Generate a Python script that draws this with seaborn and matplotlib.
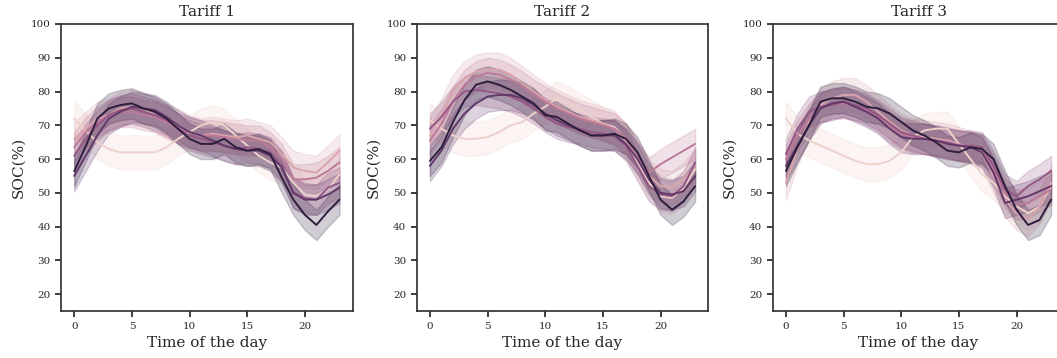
import matplotlib
matplotlib.use("Agg")
import matplotlib.pyplot as plt
import seaborn as sns
import numpy as np
import pandas as pd

hours = list(range(24))
levels = [1, 2, 3, 4, 5, 6]
tariffs = ["Tariff 1", "Tariff 2", "Tariff 3"]

# mean SOC per hour, one list per hue level (1 = lightest ... 6 = darkest)
t1 = {
    1: [72, 68.5, 65, 63, 62, 62, 62, 62, 63.5, 66, 68, 70, 71, 70, 67, 64, 61, 59, 57.5, 53, 49.5, 49, 51, 55.5],
    2: [66, 69, 72, 73, 75, 75.5, 75, 73, 71, 70, 68, 67, 67.5, 67, 66.5, 67, 66, 65, 61.5, 57.5, 56.5, 56, 59, 62.5],
    3: [63.5, 68, 71, 73, 74, 74, 73, 72.5, 71, 69, 68, 67, 67, 66.5, 66, 65.5, 65.5, 63.5, 60, 54, 54, 54.5, 56.5, 59],
    4: [61, 66, 70, 73, 74.5, 75, 74, 73, 71.5, 69, 67, 66, 65, 64, 63, 63.5, 63, 62, 58, 50, 48.5, 48, 51.5, 53],
    5: [55, 61, 67, 72, 74, 75.5, 75, 74.5, 72.5, 70, 68, 67, 65.5, 64, 63, 62.5, 62.5, 61, 57.5, 50, 48, 48, 49.5, 51.5],
    6: [56.4, 63.8, 72, 75, 76, 76.5, 75, 74, 72, 69, 66, 64.5, 64.5, 66, 63.5, 62.5, 63, 61.5, 54.5, 48, 43.5, 40.5, 44.5, 48],
}
t2 = {
    1: [71.5, 69, 67, 66, 66, 66.5, 68, 70, 71, 73.5, 75.5, 78, 76.5, 74.5, 72.5, 70.5, 69.5, 65.5, 59, 53, 49, 48.5, 51.5, 57],
    2: [67, 73, 80, 84, 86, 86.5, 86.5, 85, 82.5, 80, 77.5, 75.5, 74, 72.5, 71.5, 70.5, 69, 65.5, 60.5, 55, 52, 51.5, 54, 58],
    3: [65.5, 70.5, 77, 82, 84.5, 85.5, 85, 83.5, 81.5, 79, 77, 75, 73.5, 72, 71, 70, 69, 66, 60.5, 56, 58.5, 60.5, 62.5, 64.5],
    4: [69, 72.5, 77, 80, 80.5, 80, 79.5, 78.5, 77, 75, 72.5, 70.5, 69.5, 69, 68, 67.5, 67, 64, 58, 52, 49.5, 49, 52, 59],
    5: [58, 62.5, 69, 73.5, 76.5, 78.5, 79, 79, 78, 76, 73.5, 71.5, 70, 68.5, 67, 67, 67, 64.5, 60, 54, 50, 49.5, 50.5, 55],
    6: [59.5, 63.5, 71, 77.5, 82, 83, 82, 80.5, 78.5, 76.5, 73, 72.5, 70.5, 68.5, 67, 67, 67.5, 66, 62, 55, 48, 45, 47.5, 52],
}
t3 = {
    1: [72, 67.5, 65.5, 64, 62.5, 61, 59.5, 58.5, 58.5, 59.5, 62, 66.5, 68.5, 69, 69, 64.5, 60, 55.5, 53, 49, 46, 44, 46, 52],
    2: [53, 63, 71, 76, 78, 79, 79, 77, 74, 71, 68.5, 67, 66.5, 66, 65.5, 64.5, 63.5, 62, 55, 48, 44, 42, 46, 53],
    3: [60, 67, 72, 75.5, 76.5, 76.5, 76, 74.5, 72.5, 69.5, 67.5, 66.5, 66, 65, 64.5, 64, 63.5, 62.5, 57, 50, 46.5, 47, 49, 51],
    4: [61.5, 69, 74, 75.5, 76, 77, 76, 75, 73, 70.5, 68, 67, 66, 65.5, 65, 64, 64, 63.5, 58, 51, 49, 52, 54, 56.5],
    5: [58, 64, 70, 75, 76.5, 77, 75.5, 74, 72, 69, 66.5, 66, 66, 65.5, 64.5, 64, 63.5, 62, 56, 47, 48, 49, 50.5, 52],
    6: [56.5, 63.5, 70, 77, 78, 78, 77, 75.5, 75, 73.5, 71, 68.5, 67, 65, 62.5, 62, 63.5, 63, 60, 52, 45, 40.5, 42, 48],
}
# approximate half-width of the shaded band per level
spread = {1: 5.0, 2: 5.0, 3: 4.5, 4: 4.5, 5: 4.5, 6: 4.5}

rows = []
for name, tab in zip(tariffs, [t1, t2, t3]):
    for lv in levels:
        for h, m in zip(hours, tab[lv]):
            for v in (m - spread[lv], m, m + spread[lv]):
                rows.append((name, lv, h, v))
df = pd.DataFrame(rows, columns=["tariff", "level", "hour", "soc"])

sns.set_theme(style="ticks", font="DejaVu Serif")
plt.rcParams["font.family"] = ["DejaVu Serif"]

fig = plt.figure(figsize=(10.57, 3.58), dpi=100)
lefts = [0.0577, 0.3942, 0.7310]
axes = [fig.add_axes([l, 0.131, 0.276, 0.802]) for l in lefts]

for ax, name in zip(axes, tariffs):
    sub = df[df.tariff == name]
    sns.lineplot(data=sub, x="hour", y="soc", hue="level", palette="ch:",
                 errorbar=("pi", 100), err_kws={"alpha": 0.22},
                 linewidth=1.4, legend=False, ax=ax)
    ax.set_ylim(15, 100)
    ax.set_yticks(range(20, 101, 10))
    ax.set_xticks([0, 5, 10, 15, 20])
    ax.set_title(name, fontsize=11)
    ax.set_xlabel("Time of the day", fontsize=11)
    ax.set_ylabel("SOC(%)", fontsize=11)
    ax.tick_params(labelsize=7.5, length=4)
    for s in ax.spines.values():
        s.set_color("#333333")

plt.savefig("out.png", dpi=100)
